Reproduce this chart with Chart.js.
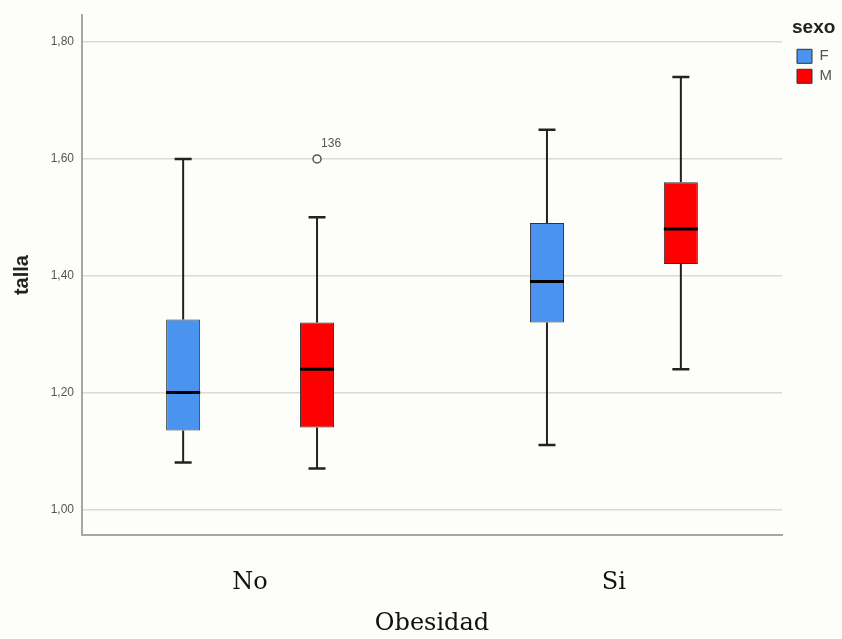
<!DOCTYPE html>
<html lang="es">
<head>
<meta charset="utf-8">
<title>talla por Obesidad y sexo</title>
<script src="https://cdn.jsdelivr.net/npm/chart.js@4.4.1/dist/chart.umd.min.js"></script>
<style>
  html, body { margin: 0; padding: 0; background: #fdfdfa; }
  #wrap { position: relative; width: 842px; height: 639px; }
</style>
</head>
<body>
<div id="wrap"><canvas id="boxplot"></canvas></div>
<script>
const categories = ["No", "Si"];

// five-number summary per box, one entry per category
const fMin = [1.08, 1.11];
const fQ1 = [1.135, 1.32];
const fMedian = [1.20, 1.39];
const fQ3 = [1.325, 1.49];
const fMax = [1.60, 1.65];

const mMin = [1.07, 1.24];
const mQ1 = [1.14, 1.42];
const mMedian = [1.24, 1.48];
const mQ3 = [1.32, 1.56];
const mMax = [1.50, 1.74];

const fOutliers = [[], []];
const fOutlierIds = [[], []];
const mOutliers = [[1.60], []];
const mOutlierIds = [["136"], []];

const yTicks = [1.0, 1.2, 1.4, 1.6, 1.8];

(() => {
  const canvas = document.getElementById("boxplot");

  function boxData(q1, q3) {
    return categories.map((_, i) => ({ x: i + 1, y: [q1[i], q3[i]] }));
  }

  function makeDataset(label, color, q1, q3, min, median, max, outliers, ids) {
    return {
      label,
      data: boxData(q1, q3),
      backgroundColor: color,
      borderColor: "#333",
      borderWidth: 1,
      borderSkipped: false,
      categoryPercentage: 0.736,
      barPercentage: 0.254,
      stats: { min, median, max, outliers, ids }
    };
  }

  // whiskers go under the boxes, medians and outliers on top
  const boxPlotPlugin = {
    id: "boxPlot",
    beforeDatasetsDraw(chart) {
      const { ctx } = chart;
      const y = chart.scales.y;
      ctx.save();
      ctx.strokeStyle = "#222";
      chart.data.datasets.forEach((ds, di) => {
        chart.getDatasetMeta(di).data.forEach((bar, i) => {
          const s = ds.stats;
          const x = bar.x;
          const cap = bar.width / 4;
          ctx.lineWidth = 2;
          ctx.beginPath();
          ctx.moveTo(x, y.getPixelForValue(s.max[i]));
          ctx.lineTo(x, y.getPixelForValue(ds.data[i].y[1]));
          ctx.moveTo(x, y.getPixelForValue(s.min[i]));
          ctx.lineTo(x, y.getPixelForValue(ds.data[i].y[0]));
          ctx.stroke();
          ctx.lineWidth = 2.5;
          ctx.beginPath();
          [s.max[i], s.min[i]].forEach((v) => {
            const py = y.getPixelForValue(v);
            ctx.moveTo(x - cap, py);
            ctx.lineTo(x + cap, py);
          });
          ctx.stroke();
        });
      });
      ctx.restore();
    },
    afterDatasetsDraw(chart) {
      const { ctx } = chart;
      const y = chart.scales.y;
      ctx.save();
      chart.data.datasets.forEach((ds, di) => {
        chart.getDatasetMeta(di).data.forEach((bar, i) => {
          const s = ds.stats;
          const x = bar.x;
          const half = bar.width / 2;
          const py = y.getPixelForValue(s.median[i]);
          ctx.strokeStyle = "#000";
          ctx.lineWidth = 3;
          ctx.beginPath();
          ctx.moveTo(x - half, py);
          ctx.lineTo(x + half, py);
          ctx.stroke();

          s.outliers[i].forEach((v, k) => {
            const oy = y.getPixelForValue(v);
            ctx.beginPath();
            ctx.arc(x, oy, 4, 0, Math.PI * 2);
            ctx.fillStyle = "#fdfdfa";
            ctx.fill();
            ctx.lineWidth = 1.5;
            ctx.strokeStyle = "#555";
            ctx.stroke();
            ctx.fillStyle = "#555";
            ctx.font = "12px 'Liberation Sans'";
            ctx.textAlign = "left";
            ctx.textBaseline = "middle";
            ctx.fillText(s.ids[i][k], x + 4, oy - 15);
          });
        });
      });
      ctx.restore();
    }
  };

  new Chart(canvas, {
    type: "bar",
    data: {
      datasets: [
        makeDataset("F", "#4a93ee", fQ1, fQ3, fMin, fMedian, fMax, fOutliers, fOutlierIds),
        makeDataset("M", "#ff0000", mQ1, mQ3, mMin, mMedian, mMax, mOutliers, mOutlierIds)
      ]
    },
    options: {
      responsive: true,
      maintainAspectRatio: false,
      animation: false,
      layout: { padding: { top: 8, left: 0, right: 0, bottom: 0 } },
      plugins: {
        tooltip: { enabled: false },
        legend: {
          position: "right",
          align: "start",
          maxWidth: 50,
          title: {
            display: true,
            text: "sexo",
            position: "start",
            color: "#222",
            font: { family: "Liberation Sans", size: 19, weight: "bold" },
            padding: { top: 10, bottom: 3 }
          },
          labels: {
            boxWidth: 15,
            boxHeight: 14,
            padding: 5,
            color: "#555",
            font: { family: "Liberation Sans", size: 15 }
          }
        }
      },
      scales: {
        x: {
          type: "linear",
          offset: false,
          min: 0.538,
          max: 2.462,
          afterBuildTicks(scale) {
            scale.ticks = categories.map((_, i) => ({ value: i + 1 }));
          },
          afterFit(scale) {
            scale.height = 104;
          },
          grid: { display: false, drawTicks: false, offset: false },
          border: { display: true, color: "#a6a6a6", width: 2 },
          ticks: {
            padding: 33,
            maxRotation: 0,
            autoSkip: false,
            color: "#111",
            font: { family: "DejaVu Serif", size: 24 },
            callback: (value, index) => categories[index]
          },
          title: {
            display: true,
            text: "Obesidad",
            color: "#111",
            font: { family: "DejaVu Serif", size: 24 },
            padding: { top: 0, bottom: 1 }
          }
        },
        y: {
          min: 0.956,
          max: 1.846,
          afterBuildTicks(scale) {
            scale.ticks = yTicks.map((v) => ({ value: v }));
          },
          afterFit(scale) {
            scale.width = 82;
          },
          grid: { color: "#d9d9d9", lineWidth: 1.5, drawTicks: false },
          border: { color: "#a6a6a6", width: 2 },
          ticks: {
            padding: 8,
            color: "#555",
            font: { family: "Liberation Sans", size: 12 },
            callback: (value) => Number(value).toFixed(2).replace(".", ",")
          },
          title: {
            display: true,
            text: "talla",
            color: "#222",
            font: { family: "Liberation Sans", size: 20, weight: "bold" },
            padding: { top: 10, bottom: 0 }
          }
        },
        // empty right axis, only keeps a gap between plot and legend
        yGap: {
          position: "right",
          grid: { display: false, drawTicks: false },
          border: { display: false },
          ticks: { display: false },
          afterFit(scale) {
            scale.width = 10;
          }
        }
      }
    },
    plugins: [boxPlotPlugin]
  });
})();
</script>
</body>
</html>
